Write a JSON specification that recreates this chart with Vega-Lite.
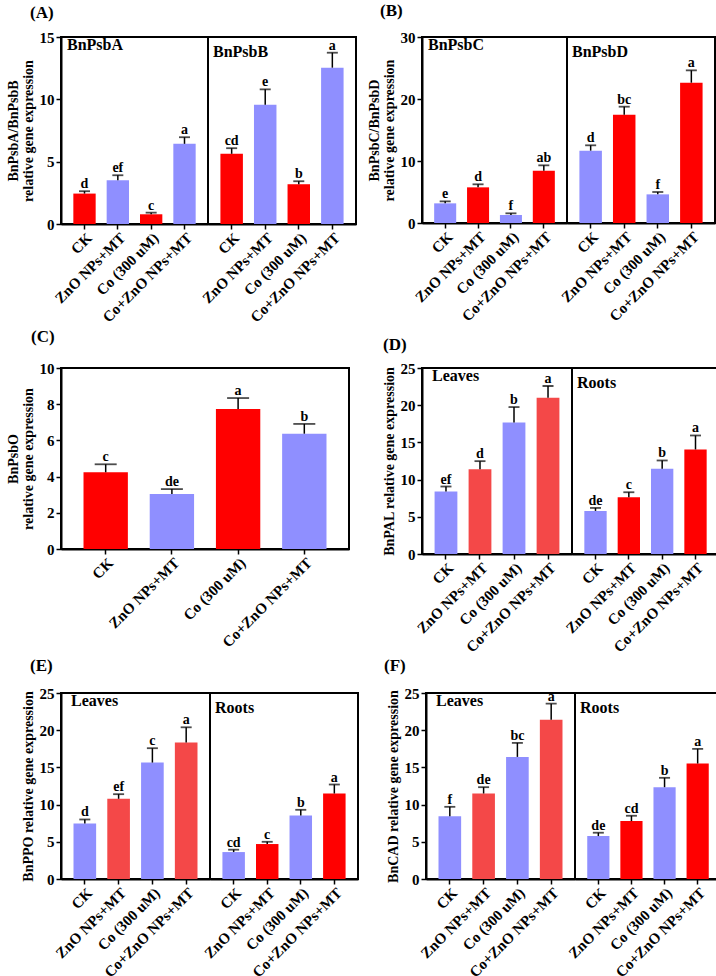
{
"$schema": "https://vega.github.io/schema/vega-lite/v6.json",
"background": "white",
"padding": {"left": 5, "top": 2, "right": 2, "bottom": 0},
"config": {
 "font": "Liberation Serif",
 "view": {"stroke": "black", "strokeWidth": 2},
 "axis": {"labelFont": "Liberation Serif", "labelFontWeight": "bold", "labelFontSize": 15, "labelColor": "black", "titleFont": "Liberation Serif", "titleFontWeight": "bold", "titleFontSize": 14, "titleColor": "black", "domainColor": "black", "domainWidth": 2, "tickColor": "black", "tickWidth": 1.5, "tickSize": 5, "grid": false, "labelPadding": 2, "labelOverlap": false},
 "axisY": {"titlePadding": 4, "titleLineHeight": 15},
 "axisX": {"labelAngle": -45, "labelPadding": 1},
 "title": {"font": "Liberation Serif", "fontWeight": "bold", "color": "black"},
 "text": {"font": "Liberation Serif", "fontWeight": "bold", "fontSize": 14, "color": "black"}
},
"datasets": {
 "A": [
  {"part":"L","trt":"CK","v":2.44,"hi":2.63,"sig":"d","tone":"red"},
  {"part":"L","trt":"ZnO NPs+MT","v":3.51,"hi":3.91,"sig":"ef","tone":"blue"},
  {"part":"L","trt":"Co (300 uM)","v":0.78,"hi":0.91,"sig":"c","tone":"red"},
  {"part":"L","trt":"Co+ZnO NPs+MT","v":6.43,"hi":6.96,"sig":"a","tone":"blue"},
  {"part":"R","trt":"CK","v":5.63,"hi":6.08,"sig":"cd","tone":"red"},
  {"part":"R","trt":"ZnO NPs+MT","v":9.56,"hi":10.80,"sig":"e","tone":"blue"},
  {"part":"R","trt":"Co (300 uM)","v":3.19,"hi":3.43,"sig":"b","tone":"red"},
  {"part":"R","trt":"Co+ZnO NPs+MT","v":12.54,"hi":13.74,"sig":"a","tone":"blue"}
 ],
 "B": [
  {"part":"L","trt":"CK","v":3.17,"hi":3.49,"sig":"e","tone":"blue"},
  {"part":"L","trt":"ZnO NPs+MT","v":5.75,"hi":6.24,"sig":"d","tone":"red"},
  {"part":"L","trt":"Co (300 uM)","v":1.29,"hi":1.56,"sig":"f","tone":"blue"},
  {"part":"L","trt":"Co+ZnO NPs+MT","v":8.44,"hi":9.30,"sig":"ab","tone":"red"},
  {"part":"R","trt":"CK","v":11.67,"hi":12.53,"sig":"d","tone":"blue"},
  {"part":"R","trt":"ZnO NPs+MT","v":17.47,"hi":18.76,"sig":"bc","tone":"red"},
  {"part":"R","trt":"Co (300 uM)","v":4.62,"hi":5.0,"sig":"f","tone":"blue"},
  {"part":"R","trt":"Co+ZnO NPs+MT","v":22.63,"hi":24.62,"sig":"a","tone":"red"}
 ],
 "C": [
  {"trt":"CK","v":4.24,"hi":4.68,"sig":"c","tone":"red"},
  {"trt":"ZnO NPs+MT","v":3.04,"hi":3.31,"sig":"de","tone":"blue"},
  {"trt":"Co (300 uM)","v":7.73,"hi":8.34,"sig":"a","tone":"red"},
  {"trt":"Co+ZnO NPs+MT","v":6.37,"hi":6.91,"sig":"b","tone":"blue"}
 ],
 "D": [
  {"part":"L","trt":"CK","v":8.39,"hi":9.07,"sig":"ef","tone":"blue"},
  {"part":"L","trt":"ZnO NPs+MT","v":11.40,"hi":12.48,"sig":"d","tone":"pale"},
  {"part":"L","trt":"Co (300 uM)","v":17.68,"hi":19.75,"sig":"b","tone":"blue"},
  {"part":"L","trt":"Co+ZnO NPs+MT","v":21.0,"hi":22.58,"sig":"a","tone":"pale"},
  {"part":"R","trt":"CK","v":5.79,"hi":6.19,"sig":"de","tone":"blue"},
  {"part":"R","trt":"ZnO NPs+MT","v":7.63,"hi":8.30,"sig":"c","tone":"red"},
  {"part":"R","trt":"Co (300 uM)","v":11.45,"hi":12.57,"sig":"b","tone":"blue"},
  {"part":"R","trt":"Co+ZnO NPs+MT","v":14.05,"hi":15.93,"sig":"a","tone":"red"}
 ],
 "E": [
  {"part":"L","trt":"CK","v":7.47,"hi":8.0,"sig":"d","tone":"blue"},
  {"part":"L","trt":"ZnO NPs+MT","v":10.78,"hi":11.40,"sig":"ef","tone":"pale"},
  {"part":"L","trt":"Co (300 uM)","v":15.65,"hi":17.58,"sig":"c","tone":"blue"},
  {"part":"L","trt":"Co+ZnO NPs+MT","v":18.34,"hi":20.39,"sig":"a","tone":"pale"},
  {"part":"R","trt":"CK","v":3.62,"hi":3.94,"sig":"cd","tone":"blue"},
  {"part":"R","trt":"ZnO NPs+MT","v":4.70,"hi":5.0,"sig":"c","tone":"red"},
  {"part":"R","trt":"Co (300 uM)","v":8.54,"hi":9.30,"sig":"b","tone":"blue"},
  {"part":"R","trt":"Co+ZnO NPs+MT","v":11.49,"hi":12.70,"sig":"a","tone":"red"}
 ],
 "F": [
  {"part":"L","trt":"CK","v":8.45,"hi":9.70,"sig":"f","tone":"blue"},
  {"part":"L","trt":"ZnO NPs+MT","v":11.49,"hi":12.34,"sig":"de","tone":"pale"},
  {"part":"L","trt":"Co (300 uM)","v":16.41,"hi":18.29,"sig":"bc","tone":"blue"},
  {"part":"L","trt":"Co+ZnO NPs+MT","v":21.42,"hi":23.57,"sig":"a","tone":"pale"},
  {"part":"R","trt":"CK","v":5.77,"hi":6.22,"sig":"de","tone":"blue"},
  {"part":"R","trt":"ZnO NPs+MT","v":7.78,"hi":8.50,"sig":"cd","tone":"red"},
  {"part":"R","trt":"Co (300 uM)","v":12.34,"hi":13.60,"sig":"b","tone":"blue"},
  {"part":"R","trt":"Co+ZnO NPs+MT","v":15.52,"hi":17.49,"sig":"a","tone":"red"}
 ]
},
"spacing": 1,
"vconcat": [
 {"hconcat": [
  {"title": {"text": "(A)", "anchor": "start", "frame": "bounds", "fontSize": 17, "offset": 7, "dx": 25},
   "spacing": 0, "bounds": "flush",
   "hconcat": [
    {"width": 147, "height": 187, "data": {"name": "A"}, "transform": [{"filter": "datum.part === 'L'"}],
     "title": {"text": "BnPsbA", "anchor": "start", "frame": "group", "offset": -23, "dx": 6, "fontSize": 16},
     "encoding": {"x": {"field": "trt", "type": "nominal", "sort": null, "scale": {"paddingInner": 0.33, "paddingOuter": 0.37}, "axis": {"title": null}},
       "y": {"field": "v", "type": "quantitative", "scale": {"domain": [0, 15]}, "axis": {"values": [0, 5, 10, 15], "title": ["BnPsbA/BnPsbB", "relative gene expression"]}}},
     "layer": [
      {"mark": "bar", "encoding": {"color": {"field": "tone", "type": "nominal", "scale": {"domain": ["red", "blue", "pale"], "range": ["#FF0000", "#8F8FFF", "#F44848"]}, "legend": null}}},
      {"mark": {"type": "rule", "color": "black", "strokeWidth": 1.5}, "encoding": {"y2": {"field": "hi"}}},
      {"mark": {"type": "tick", "color": "black", "size": 11, "thickness": 1.8}, "encoding": {"y": {"field": "hi", "type": "quantitative", "scale": {"domain": [0, 15]}, "axis": {"values": [0, 5, 10, 15], "title": ["BnPsbA/BnPsbB", "relative gene expression"]}}}},
      {"mark": {"type": "text", "baseline": "alphabetic", "dy": -3}, "encoding": {"y": {"field": "hi", "type": "quantitative", "scale": {"domain": [0, 15]}, "axis": {"values": [0, 5, 10, 15], "title": ["BnPsbA/BnPsbB", "relative gene expression"]}}, "text": {"field": "sig"}}}
     ]},
    {"width": 148, "height": 187, "data": {"name": "A"}, "transform": [{"filter": "datum.part === 'R'"}],
     "title": {"text": "BnPsbB", "anchor": "start", "frame": "group", "offset": -23, "dx": 5, "fontSize": 16},
     "encoding": {"x": {"field": "trt", "type": "nominal", "sort": null, "scale": {"paddingInner": 0.33, "paddingOuter": 0.37}, "axis": {"title": null}},
       "y": {"field": "v", "type": "quantitative", "scale": {"domain": [0, 15]}, "axis": null}},
     "layer": [
      {"mark": "bar", "encoding": {"color": {"field": "tone", "type": "nominal", "scale": {"domain": ["red", "blue", "pale"], "range": ["#FF0000", "#8F8FFF", "#F44848"]}, "legend": null}}},
      {"mark": {"type": "rule", "color": "black", "strokeWidth": 1.5}, "encoding": {"y2": {"field": "hi"}}},
      {"mark": {"type": "tick", "color": "black", "size": 11, "thickness": 1.8}, "encoding": {"y": {"field": "hi", "type": "quantitative", "scale": {"domain": [0, 15]}, "axis": null}}},
      {"mark": {"type": "text", "baseline": "alphabetic", "dy": -3}, "encoding": {"y": {"field": "hi", "type": "quantitative", "scale": {"domain": [0, 15]}, "axis": null}, "text": {"field": "sig"}}}
     ]}
   ]},
  {"title": {"text": "(B)", "anchor": "start", "frame": "bounds", "fontSize": 17, "offset": 9, "dx": 14},
   "spacing": 0, "bounds": "flush",
   "hconcat": [
    {"width": 145, "height": 186, "data": {"name": "B"}, "transform": [{"filter": "datum.part === 'L'"}],
     "title": {"text": "BnPsbC", "anchor": "start", "frame": "group", "offset": -23, "dx": 6, "fontSize": 16},
     "encoding": {"x": {"field": "trt", "type": "nominal", "sort": null, "scale": {"paddingInner": 0.33, "paddingOuter": 0.37}, "axis": {"title": null}},
       "y": {"field": "v", "type": "quantitative", "scale": {"domain": [0, 30]}, "axis": {"values": [0, 10, 20, 30], "title": ["BnPsbC/BnPsbD", "relative gene expression"]}}},
     "layer": [
      {"mark": "bar", "encoding": {"color": {"field": "tone", "type": "nominal", "scale": {"domain": ["red", "blue", "pale"], "range": ["#FF0000", "#8F8FFF", "#F44848"]}, "legend": null}}},
      {"mark": {"type": "rule", "color": "black", "strokeWidth": 1.5}, "encoding": {"y2": {"field": "hi"}}},
      {"mark": {"type": "tick", "color": "black", "size": 11, "thickness": 1.8}, "encoding": {"y": {"field": "hi", "type": "quantitative", "scale": {"domain": [0, 30]}, "axis": {"values": [0, 10, 20, 30], "title": ["BnPsbC/BnPsbD", "relative gene expression"]}}}},
      {"mark": {"type": "text", "baseline": "alphabetic", "dy": -3}, "encoding": {"y": {"field": "hi", "type": "quantitative", "scale": {"domain": [0, 30]}, "axis": {"values": [0, 10, 20, 30], "title": ["BnPsbC/BnPsbD", "relative gene expression"]}}, "text": {"field": "sig"}}}
     ]},
    {"width": 148, "height": 186, "data": {"name": "B"}, "transform": [{"filter": "datum.part === 'R'"}],
     "title": {"text": "BnPsbD", "anchor": "start", "frame": "group", "offset": -23, "dx": 5, "fontSize": 16},
     "encoding": {"x": {"field": "trt", "type": "nominal", "sort": null, "scale": {"paddingInner": 0.33, "paddingOuter": 0.37}, "axis": {"title": null}},
       "y": {"field": "v", "type": "quantitative", "scale": {"domain": [0, 30]}, "axis": null}},
     "layer": [
      {"mark": "bar", "encoding": {"color": {"field": "tone", "type": "nominal", "scale": {"domain": ["red", "blue", "pale"], "range": ["#FF0000", "#8F8FFF", "#F44848"]}, "legend": null}}},
      {"mark": {"type": "rule", "color": "black", "strokeWidth": 1.5}, "encoding": {"y2": {"field": "hi"}}},
      {"mark": {"type": "tick", "color": "black", "size": 11, "thickness": 1.8}, "encoding": {"y": {"field": "hi", "type": "quantitative", "scale": {"domain": [0, 30]}, "axis": null}}},
      {"mark": {"type": "text", "baseline": "alphabetic", "dy": -3}, "encoding": {"y": {"field": "hi", "type": "quantitative", "scale": {"domain": [0, 30]}, "axis": null}, "text": {"field": "sig"}}}
     ]}
   ]}
 ], "spacing": 9},
 {"hconcat": [
  {"title": {"text": "(C)", "anchor": "start", "frame": "bounds", "fontSize": 17, "offset": 15, "dx": 25},
   "width": 288, "height": 181, "data": {"name": "C"},
   "encoding": {"x": {"field": "trt", "type": "nominal", "sort": null, "scale": {"paddingInner": 0.33, "paddingOuter": 0.34}, "axis": {"title": null}},
     "y": {"field": "v", "type": "quantitative", "scale": {"domain": [0, 10]}, "axis": {"values": [0, 2, 4, 6, 8, 10], "title": ["BnPsbO", "relative gene expression"]}}},
   "layer": [
    {"mark": "bar", "encoding": {"color": {"field": "tone", "type": "nominal", "scale": {"domain": ["red", "blue", "pale"], "range": ["#FF0000", "#8F8FFF", "#F44848"]}, "legend": null}}},
    {"mark": {"type": "rule", "color": "black", "strokeWidth": 1.5}, "encoding": {"y2": {"field": "hi"}}},
    {"mark": {"type": "tick", "color": "black", "size": 22, "thickness": 1.8}, "encoding": {"y": {"field": "hi", "type": "quantitative", "scale": {"domain": [0, 10]}, "axis": {"values": [0, 2, 4, 6, 8, 10], "title": ["BnPsbO", "relative gene expression"]}}}},
    {"mark": {"type": "text", "baseline": "alphabetic", "dy": -3}, "encoding": {"y": {"field": "hi", "type": "quantitative", "scale": {"domain": [0, 10]}, "axis": {"values": [0, 2, 4, 6, 8, 10], "title": ["BnPsbO", "relative gene expression"]}}, "text": {"field": "sig"}}}
   ]},
  {"title": {"text": "(D)", "anchor": "start", "frame": "bounds", "fontSize": 17, "offset": 6, "dx": 17},
   "spacing": 0, "bounds": "flush",
   "hconcat": [
    {"width": 150, "height": 186, "data": {"name": "D"}, "transform": [{"filter": "datum.part === 'L'"}],
     "title": {"text": "Leaves", "anchor": "start", "frame": "group", "offset": -23, "dx": 10, "fontSize": 16},
     "encoding": {"x": {"field": "trt", "type": "nominal", "sort": null, "scale": {"paddingInner": 0.33, "paddingOuter": 0.37}, "axis": {"title": null}},
       "y": {"field": "v", "type": "quantitative", "scale": {"domain": [0, 25]}, "axis": {"values": [0, 5, 10, 15, 20, 25], "title": [" ", "BnPAL relative gene expression"]}}},
     "layer": [
      {"mark": "bar", "encoding": {"color": {"field": "tone", "type": "nominal", "scale": {"domain": ["red", "blue", "pale"], "range": ["#FF0000", "#8F8FFF", "#F44848"]}, "legend": null}}},
      {"mark": {"type": "rule", "color": "black", "strokeWidth": 1.5}, "encoding": {"y2": {"field": "hi"}}},
      {"mark": {"type": "tick", "color": "black", "size": 11, "thickness": 1.8}, "encoding": {"y": {"field": "hi", "type": "quantitative", "scale": {"domain": [0, 25]}, "axis": {"values": [0, 5, 10, 15, 20, 25], "title": [" ", "BnPAL relative gene expression"]}}}},
      {"mark": {"type": "text", "baseline": "alphabetic", "dy": -3}, "encoding": {"y": {"field": "hi", "type": "quantitative", "scale": {"domain": [0, 25]}, "axis": {"values": [0, 5, 10, 15, 20, 25], "title": [" ", "BnPAL relative gene expression"]}}, "text": {"field": "sig"}}}
     ]},
    {"width": 147, "height": 186, "data": {"name": "D"}, "transform": [{"filter": "datum.part === 'R'"}],
     "title": {"text": "Roots", "anchor": "start", "frame": "group", "offset": -23, "dx": 5, "fontSize": 16},
     "encoding": {"x": {"field": "trt", "type": "nominal", "sort": null, "scale": {"paddingInner": 0.33, "paddingOuter": 0.37}, "axis": {"title": null}},
       "y": {"field": "v", "type": "quantitative", "scale": {"domain": [0, 25]}, "axis": null}},
     "layer": [
      {"mark": "bar", "encoding": {"color": {"field": "tone", "type": "nominal", "scale": {"domain": ["red", "blue", "pale"], "range": ["#FF0000", "#8F8FFF", "#F44848"]}, "legend": null}}},
      {"mark": {"type": "rule", "color": "black", "strokeWidth": 1.5}, "encoding": {"y2": {"field": "hi"}}},
      {"mark": {"type": "tick", "color": "black", "size": 11, "thickness": 1.8}, "encoding": {"y": {"field": "hi", "type": "quantitative", "scale": {"domain": [0, 25]}, "axis": null}}},
      {"mark": {"type": "text", "baseline": "alphabetic", "dy": -3}, "encoding": {"y": {"field": "hi", "type": "quantitative", "scale": {"domain": [0, 25]}, "axis": null}, "text": {"field": "sig"}}}
     ]}
   ]}
 ], "spacing": 16},
 {"hconcat": [
  {"title": {"text": "(E)", "anchor": "start", "frame": "bounds", "fontSize": 17, "offset": 10, "dx": 25},
   "spacing": 0, "bounds": "flush",
   "hconcat": [
    {"width": 149, "height": 186, "data": {"name": "E"}, "transform": [{"filter": "datum.part === 'L'"}],
     "title": {"text": "Leaves", "anchor": "start", "frame": "group", "offset": -23, "dx": 10, "fontSize": 16},
     "encoding": {"x": {"field": "trt", "type": "nominal", "sort": null, "scale": {"paddingInner": 0.33, "paddingOuter": 0.37}, "axis": {"title": null}},
       "y": {"field": "v", "type": "quantitative", "scale": {"domain": [0, 25]}, "axis": {"values": [0, 5, 10, 15, 20, 25], "title": [" ", "BnPPO relative gene expression"]}}},
     "layer": [
      {"mark": "bar", "encoding": {"color": {"field": "tone", "type": "nominal", "scale": {"domain": ["red", "blue", "pale"], "range": ["#FF0000", "#8F8FFF", "#F44848"]}, "legend": null}}},
      {"mark": {"type": "rule", "color": "black", "strokeWidth": 1.5}, "encoding": {"y2": {"field": "hi"}}},
      {"mark": {"type": "tick", "color": "black", "size": 11, "thickness": 1.8}, "encoding": {"y": {"field": "hi", "type": "quantitative", "scale": {"domain": [0, 25]}, "axis": {"values": [0, 5, 10, 15, 20, 25], "title": [" ", "BnPPO relative gene expression"]}}}},
      {"mark": {"type": "text", "baseline": "alphabetic", "dy": -3}, "encoding": {"y": {"field": "hi", "type": "quantitative", "scale": {"domain": [0, 25]}, "axis": {"values": [0, 5, 10, 15, 20, 25], "title": [" ", "BnPPO relative gene expression"]}}, "text": {"field": "sig"}}}
     ]},
    {"width": 148, "height": 186, "data": {"name": "E"}, "transform": [{"filter": "datum.part === 'R'"}],
     "title": {"text": "Roots", "anchor": "start", "frame": "group", "offset": -23, "dx": 5, "fontSize": 16},
     "encoding": {"x": {"field": "trt", "type": "nominal", "sort": null, "scale": {"paddingInner": 0.33, "paddingOuter": 0.37}, "axis": {"title": null}},
       "y": {"field": "v", "type": "quantitative", "scale": {"domain": [0, 25]}, "axis": null}},
     "layer": [
      {"mark": "bar", "encoding": {"color": {"field": "tone", "type": "nominal", "scale": {"domain": ["red", "blue", "pale"], "range": ["#FF0000", "#8F8FFF", "#F44848"]}, "legend": null}}},
      {"mark": {"type": "rule", "color": "black", "strokeWidth": 1.5}, "encoding": {"y2": {"field": "hi"}}},
      {"mark": {"type": "tick", "color": "black", "size": 11, "thickness": 1.8}, "encoding": {"y": {"field": "hi", "type": "quantitative", "scale": {"domain": [0, 25]}, "axis": null}}},
      {"mark": {"type": "text", "baseline": "alphabetic", "dy": -3}, "encoding": {"y": {"field": "hi", "type": "quantitative", "scale": {"domain": [0, 25]}, "axis": null}, "text": {"field": "sig"}}}
     ]}
   ]},
  {"title": {"text": "(F)", "anchor": "start", "frame": "bounds", "fontSize": 17, "offset": 10, "dx": 14},
   "spacing": 0, "bounds": "flush",
   "hconcat": [
    {"width": 149, "height": 186, "data": {"name": "F"}, "transform": [{"filter": "datum.part === 'L'"}],
     "title": {"text": "Leaves", "anchor": "start", "frame": "group", "offset": -23, "dx": 10, "fontSize": 16},
     "encoding": {"x": {"field": "trt", "type": "nominal", "sort": null, "scale": {"paddingInner": 0.33, "paddingOuter": 0.37}, "axis": {"title": null}},
       "y": {"field": "v", "type": "quantitative", "scale": {"domain": [0, 25]}, "axis": {"values": [0, 5, 10, 15, 20, 25], "title": [" ", "BnCAD relative gene expression"]}}},
     "layer": [
      {"mark": "bar", "encoding": {"color": {"field": "tone", "type": "nominal", "scale": {"domain": ["red", "blue", "pale"], "range": ["#FF0000", "#8F8FFF", "#F44848"]}, "legend": null}}},
      {"mark": {"type": "rule", "color": "black", "strokeWidth": 1.5}, "encoding": {"y2": {"field": "hi"}}},
      {"mark": {"type": "tick", "color": "black", "size": 11, "thickness": 1.8}, "encoding": {"y": {"field": "hi", "type": "quantitative", "scale": {"domain": [0, 25]}, "axis": {"values": [0, 5, 10, 15, 20, 25], "title": [" ", "BnCAD relative gene expression"]}}}},
      {"mark": {"type": "text", "baseline": "alphabetic", "dy": -3}, "encoding": {"y": {"field": "hi", "type": "quantitative", "scale": {"domain": [0, 25]}, "axis": {"values": [0, 5, 10, 15, 20, 25], "title": [" ", "BnCAD relative gene expression"]}}, "text": {"field": "sig"}}}
     ]},
    {"width": 146, "height": 186, "data": {"name": "F"}, "transform": [{"filter": "datum.part === 'R'"}],
     "title": {"text": "Roots", "anchor": "start", "frame": "group", "offset": -23, "dx": 5, "fontSize": 16},
     "encoding": {"x": {"field": "trt", "type": "nominal", "sort": null, "scale": {"paddingInner": 0.33, "paddingOuter": 0.37}, "axis": {"title": null}},
       "y": {"field": "v", "type": "quantitative", "scale": {"domain": [0, 25]}, "axis": null}},
     "layer": [
      {"mark": "bar", "encoding": {"color": {"field": "tone", "type": "nominal", "scale": {"domain": ["red", "blue", "pale"], "range": ["#FF0000", "#8F8FFF", "#F44848"]}, "legend": null}}},
      {"mark": {"type": "rule", "color": "black", "strokeWidth": 1.5}, "encoding": {"y2": {"field": "hi"}}},
      {"mark": {"type": "tick", "color": "black", "size": 11, "thickness": 1.8}, "encoding": {"y": {"field": "hi", "type": "quantitative", "scale": {"domain": [0, 25]}, "axis": null}}},
      {"mark": {"type": "text", "baseline": "alphabetic", "dy": -3}, "encoding": {"y": {"field": "hi", "type": "quantitative", "scale": {"domain": [0, 25]}, "axis": null}, "text": {"field": "sig"}}}
     ]}
   ]}
 ], "spacing": 11}
]
}
